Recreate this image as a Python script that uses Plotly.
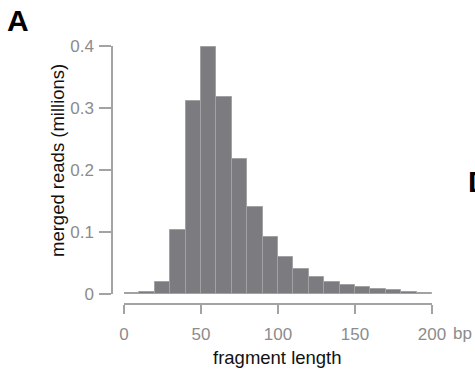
import plotly.graph_objects as go

# Fragment length histogram: 10 bp bins from 0 to 200 bp
bin_starts = [0, 10, 20, 30, 40, 50, 60, 70, 80, 90,
              100, 110, 120, 130, 140, 150, 160, 170, 180, 190]
merged_reads_millions = [0.0015, 0.004, 0.019, 0.104, 0.311, 0.398, 0.318, 0.217,
                         0.140, 0.092, 0.059, 0.040, 0.028, 0.019, 0.014, 0.011,
                         0.008, 0.006, 0.004, 0.0015]
bin_width = 10

x_tick_vals = [0, 50, 100, 150, 200]
x_tick_text = ["0", "50", "100", "150", "200"]
y_tick_vals = [0, 0.1, 0.2, 0.3, 0.4]
y_tick_text = ["0", "0.1", "0.2", "0.3", "0.4"]

W, H = 475, 375
FONT = "Liberation Sans, Arial, Helvetica, sans-serif"
AXIS_GRAY = "#a3a3a3"
LABEL_GRAY = "#8c8c8c"

fig = go.Figure(
    go.Bar(
        x=[s + bin_width / 2 for s in bin_starts],
        y=merged_reads_millions,
        width=bin_width,
        marker=dict(color="#7c7c80", line=dict(color="#a2a2a4", width=1)),
        hoverinfo="skip",
    )
)

fig.update_layout(
    width=W, height=H,
    margin=dict(l=0, r=0, t=0, b=0, pad=0),
    paper_bgcolor="white", plot_bgcolor="white",
    showlegend=False,
    bargap=0,
    font=dict(family=FONT, size=17, color=LABEL_GRAY),
    xaxis=dict(
        domain=[124 / W, 432 / W],
        range=[0, 200],
        anchor="free",
        position=(H - 304) / H,
        automargin=False,
        showgrid=False, zeroline=False,
        showline=True, linecolor=AXIS_GRAY, linewidth=1.5,
        ticks="outside", ticklen=9, tickwidth=1.5, tickcolor=AXIS_GRAY,
        tickvals=x_tick_vals, ticktext=x_tick_text,
        tickfont=dict(family=FONT, size=17, color=LABEL_GRAY),
        ticklabelstandoff=6,
    ),
    yaxis=dict(
        domain=[(H - 294) / H, (H - 46) / H],
        range=[0, 0.4],
        anchor="free",
        position=112 / W,
        automargin=False,
        showgrid=False, zeroline=False,
        showline=True, linecolor=AXIS_GRAY, linewidth=1.5,
        ticks="outside", ticklen=12, tickwidth=1.5, tickcolor=AXIS_GRAY,
        tickvals=y_tick_vals, ticktext=y_tick_text,
        tickfont=dict(family=FONT, size=17, color=LABEL_GRAY),
        ticklabelstandoff=2,
    ),
)

annotations = [
    # unit after the last x tick label
    dict(text="bp", xref="x", yref="paper", x=200, y=(H - 333) / H,
         xanchor="left", yanchor="middle", xshift=19, showarrow=False,
         font=dict(family=FONT, size=17, color=LABEL_GRAY)),
    # axis titles
    dict(text="fragment length", xref="paper", yref="paper",
         x=277 / W, y=(H - 357) / H, xanchor="center", yanchor="middle",
         showarrow=False, font=dict(family=FONT, size=18.5, color="#111111")),
    dict(text="merged reads (millions)", xref="paper", yref="paper",
         x=57 / W, y=(H - 161) / H, xanchor="center", yanchor="middle",
         textangle=-90, showarrow=False,
         font=dict(family=FONT, size=18.5, color="#111111")),
    # panel letters
    dict(text="<b>A</b>", xref="paper", yref="paper", x=5 / W, y=(H - 20) / H,
         xanchor="left", yanchor="middle", showarrow=False,
         font=dict(family=FONT, size=30, color="black")),
    dict(text="<b>D</b>", xref="paper", yref="paper", x=466 / W, y=(H - 181) / H,
         xanchor="left", yanchor="middle", showarrow=False,
         font=dict(family=FONT, size=30, color="black")),
]
fig.update_layout(annotations=annotations)

fig.write_html("out.html")
